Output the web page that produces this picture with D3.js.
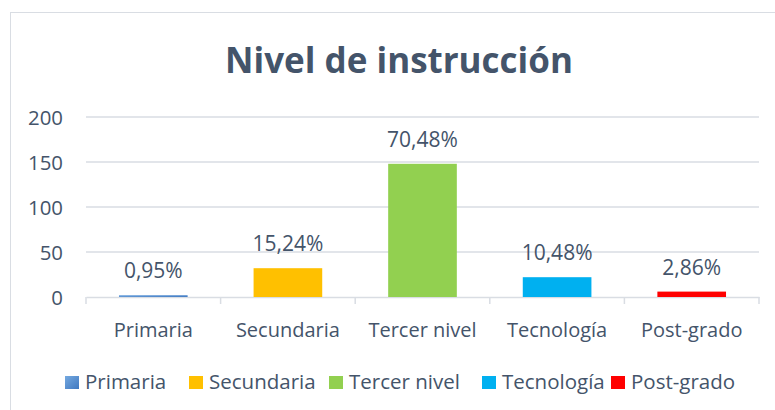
<!DOCTYPE html>
<html>
<head>
<meta charset="utf-8">
<script src="https://cdn.jsdelivr.net/npm/d3@7"></script>
<style>
  body { margin: 0; background: #fff; }
  svg text { font-family: "Open Sans", sans-serif; fill: #44546a; }
</style>
</head>
<body>
<div id="chart"></div>
<script>
// Nivel de instrucción — bar chart, counts with % labels
const CATEGORIES = ["Primaria", "Secundaria", "Tercer nivel", "Tecnología", "Post-grado"];
const COUNTS     = [2, 32, 148, 22, 6];
const PCT_LABELS = ["0,95%", "15,24%", "70,48%", "10,48%", "2,86%"];
const COLORS     = ["#5b9bd5", "#ffc000", "#92d050", "#00b0f0", "#ff0000"];
const Y_TICKS    = [0, 50, 100, 150, 200];

const W = 775, H = 410;
const plot = { left: 86, right: 759, top: 117, bottom: 297 };

const svg = d3.select("#chart").append("svg")
  .attr("width", W).attr("height", H);

const defs = svg.append("defs");
const grad = defs.append("linearGradient").attr("id", "blueGrad")
  .attr("x1", 0).attr("y1", 0).attr("x2", 1).attr("y2", 1);
grad.append("stop").attr("offset", "0%").attr("stop-color", "#75a9e0");
grad.append("stop").attr("offset", "100%").attr("stop-color", "#3f78c0");
const fillFor = i => i === 0 ? "url(#blueGrad)" : COLORS[i];

// outer chart border
svg.append("rect")
  .attr("x", 10.5).attr("y", 12.5)
  .attr("width", W + 10).attr("height", H + 10)
  .attr("fill", "#fff").attr("stroke", "#d9dde3");

svg.append("text")
  .attr("x", 399).attr("y", 73)
  .attr("text-anchor", "middle")
  .style("font-size", "35px").style("font-weight", 700)
  .text("Nivel de instrucción");

const x = d3.scaleBand().domain(CATEGORIES).range([plot.left, plot.right]);
const y = d3.scaleLinear().domain([0, 200]).range([plot.bottom, plot.top]);
const barW = x.bandwidth() * 0.51;

// gridlines
svg.append("g").selectAll("line")
  .data(Y_TICKS.filter(d => d > 0))
  .join("line")
    .attr("x1", plot.left).attr("x2", plot.right)
    .attr("y1", d => y(d)).attr("y2", d => y(d))
    .attr("stroke", "#d9dde3").attr("stroke-width", 1.5);

// y tick labels
svg.append("g").selectAll("text")
  .data(Y_TICKS)
  .join("text")
    .attr("x", 63).attr("y", d => y(d) + 7.5)
    .attr("text-anchor", "end")
    .style("font-size", "20.4px")
    .text(d => d);

// x axis line + category ticks
const xAxis = svg.append("g").attr("transform", `translate(0,${plot.bottom})`)
  .call(d3.axisBottom(x).tickSize(0).tickFormat(""));
xAxis.select(".domain").attr("stroke", "#d9dde3").attr("stroke-width", 1.5);
xAxis.selectAll(".boundary")
  .data(d3.range(CATEGORIES.length + 1))
  .join("line")
    .attr("class", "boundary")
    .attr("x1", i => plot.left + i * x.step()).attr("x2", i => plot.left + i * x.step())
    .attr("y1", 0).attr("y2", 7)
    .attr("stroke", "#d9dde3").attr("stroke-width", 1.5);

// bars
svg.append("g").selectAll("rect")
  .data(CATEGORIES)
  .join("rect")
    .attr("x", d => x(d) + (x.bandwidth() - barW) / 2)
    .attr("y", (d, i) => y(COUNTS[i]))
    .attr("width", barW)
    .attr("height", (d, i) => y(0) - y(COUNTS[i]))
    .attr("fill", (d, i) => fillFor(i));

// value labels
svg.append("g").selectAll("text")
  .data(CATEGORIES)
  .join("text")
    .attr("x", d => x(d) + x.bandwidth() / 2)
    .attr("y", (d, i) => y(COUNTS[i]) - 17)
    .attr("text-anchor", "middle")
    .style("font-size", "21px")
    .text((d, i) => PCT_LABELS[i]);

// category labels
svg.append("g").selectAll("text")
  .data(CATEGORIES)
  .join("text")
    .attr("x", d => x(d) + x.bandwidth() / 2)
    .attr("y", 337)
    .attr("text-anchor", "middle")
    .style("font-size", "20px")
    .text(d => d);

// legend
const legendX = [65, 189, 329, 482, 611];
const legend = svg.append("g").selectAll("g")
  .data(CATEGORIES)
  .join("g")
    .attr("transform", (d, i) => `translate(${legendX[i]},376)`);
legend.append("rect")
  .attr("width", 14).attr("height", 13)
  .attr("fill", (d, i) => fillFor(i));
legend.append("text")
  .attr("x", 20).attr("y", 13)
  .style("font-size", "20.5px")
  .text(d => d);
</script>
</body>
</html>
